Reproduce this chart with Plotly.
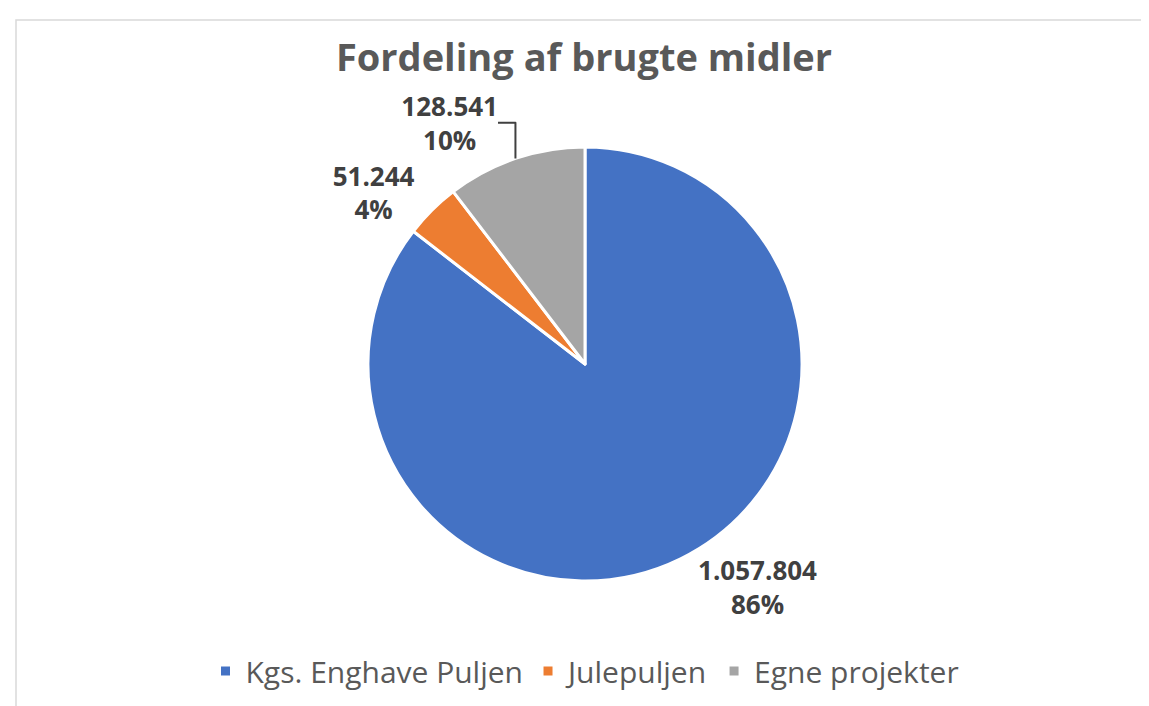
import plotly.graph_objects as go

categories = ["Kgs. Enghave Puljen", "Julepuljen", "Egne projekter"]
values = [1057804, 51244, 128541]
value_labels = ["1.057.804", "51.244", "128.541"]
percent_labels = ["86%", "4%", "10%"]
colors = ["#4472C4", "#ED7D31", "#A5A5A5"]

W, H = 1149, 706
cx, cy, r = 577, 356, 217

texts = [f"{v}<br>{p}" for v, p in zip(value_labels, percent_labels)]

fig = go.Figure(go.Pie(
    labels=categories,
    values=values,
    text=texts,
    textinfo="text",
    textposition="outside",
    sort=False,
    direction="clockwise",
    rotation=0,
    marker=dict(colors=colors, line=dict(color="white", width=3)),
    textfont=dict(family="Open Sans", size=26, color="#404040", weight="bold"),
    domain=dict(x=[(cx - r) / W, (cx + r) / W], y=[1 - (cy + r) / H, 1 - (cy - r) / H]),
    hoverinfo="label+value+percent",
))

fig.update_layout(
    width=W, height=H,
    margin=dict(l=0, r=0, t=0, b=0),
    paper_bgcolor="white",
    title=dict(text="<b>Fordeling af brugte midler</b>", x=576 / W, xanchor="center",
               y=1 - 50 / H, yanchor="middle",
               font=dict(family="Open Sans", size=38, color="#595959")),
    legend=dict(orientation="h", x=577 / W, xanchor="center", y=1 - 663 / H, yanchor="middle",
                font=dict(family="Open Sans", size=30, color="#595959"), itemwidth=30,
                traceorder="normal"),
    shapes=[dict(type="rect", xref="paper", yref="paper", x0=8 / W, x1=1.02,
                 y0=-0.02, y1=1 - 12 / H, line=dict(color="#D9D9D9", width=1.5))],
)

fig.write_html("out.html")
